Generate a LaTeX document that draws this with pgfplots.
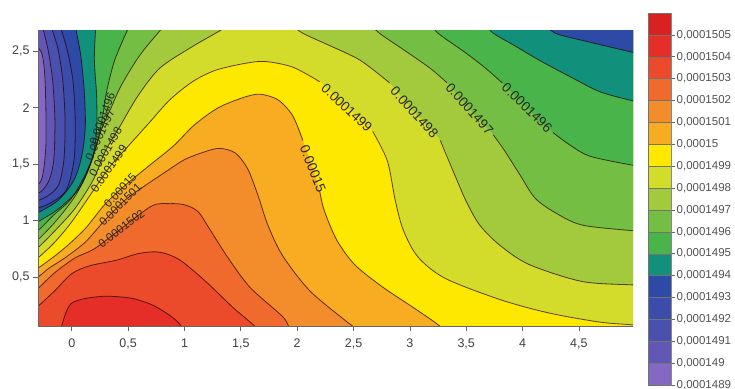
\documentclass[border=0pt]{standalone}
\usepackage{fontspec}
\setmainfont{Liberation Sans}
\usepackage{pgfplots}
\usepackage{pgfplotstable}
\pgfplotsset{compat=1.18}
\definecolor{b1489}{HTML}{8468C4}
\definecolor{b1490}{HTML}{6257B5}
\definecolor{b1491}{HTML}{4A50AE}
\definecolor{b1492}{HTML}{3C4CAB}
\definecolor{b1493}{HTML}{2C4AA6}
\definecolor{b1494}{HTML}{11907C}
\definecolor{b1495}{HTML}{48B44A}
\definecolor{b1496}{HTML}{74BF43}
\definecolor{b1497}{HTML}{A2CA3C}
\definecolor{b1498}{HTML}{D4DC2B}
\definecolor{b1499}{HTML}{FFE800}
\definecolor{b1500}{HTML}{F8AC22}
\definecolor{b1501}{HTML}{F38C2A}
\definecolor{b1502}{HTML}{EF6A2C}
\definecolor{b1503}{HTML}{EB4B2B}
\definecolor{b1504}{HTML}{E52E27}
\definecolor{b1505}{HTML}{D9211F}
\pgfplotsset{
  cl/.style={smooth, draw=black!85!red, draw opacity=0.72, line width=0.8bp},
  rg/.style={smooth, draw=none, fill=#1},
}
\tikzset{
  lab/.style={font=\fontsize{13.5bp}{14bp}\selectfont, text=black!85, inner sep=0pt},
  slab/.style={font=\fontsize{11.5bp}{12bp}\selectfont, text=black!85, inner sep=0pt},
}
\begin{document}
% contour 0.000149 (closed pocket on the left edge)
\pgfplotstableread{
x y
-0.37 2.60
-0.27 2.49
-0.24 2.29
-0.23 1.98
-0.23 1.67
-0.25 1.45
-0.28 1.34
-0.37 1.27
}\tNa
% 0.0001491
\pgfplotstableread{
x y
-0.26 2.75
-0.25 2.68
-0.21 2.51
-0.17 2.24
-0.15 1.89
-0.16 1.54
-0.20 1.36
-0.27 1.26
-0.37 1.21
}\tNb
% 0.0001492
\pgfplotstableread{
x y
-0.19 2.75
-0.17 2.68
-0.12 2.51
-0.08 2.24
-0.06 1.89
-0.07 1.54
-0.12 1.31
-0.23 1.21
-0.37 1.15
}\tNc
% 0.0001493
\pgfplotstableread{
x y
-0.11 2.75
-0.09 2.68
-0.04 2.51
0.01 2.24
0.03 1.89
0.02 1.54
-0.05 1.27
-0.20 1.15
-0.37 1.09
}\tNd
% 0.0001494 left
\pgfplotstableread{
x y
0.03 2.75
0.04 2.68
0.08 2.46
0.11 2.15
0.12 1.84
0.09 1.58
0.02 1.36
-0.12 1.18
-0.30 1.07
-0.39 1.03
}\tLe
% 0.0001495 left
\pgfplotstableread{
x y
0.22 2.75
0.21 2.68
0.20 2.42
0.22 2.11
0.22 1.80
0.18 1.54
0.07 1.29
-0.11 1.11
-0.30 0.99
-0.39 0.95
}\tLf
% 0.0001496 left
\pgfplotstableread{
x y
0.53 2.75
0.49 2.68
0.38 2.42
0.31 2.15
0.28 1.96
0.23 1.71
0.14 1.45
0.00 1.20
-0.16 1.05
-0.30 0.91
-0.39 0.85
}\tLg
% 0.0001497 left
\pgfplotstableread{
x y
0.85 2.75
0.78 2.68
0.60 2.46
0.44 2.20
0.34 1.98
0.26 1.80
0.18 1.54
0.05 1.25
-0.12 1.02
-0.30 0.83
-0.39 0.77
}\tLh
% 0.0001498 left
\pgfplotstableread{
x y
1.42 2.75
1.31 2.68
1.05 2.53
0.78 2.35
0.59 2.11
0.43 1.84
0.30 1.62
0.19 1.36
0.03 1.11
-0.14 0.92
-0.30 0.76
-0.39 0.70
}\tLi
% 0.0001498 right
\pgfplotstableread{
x y
1.93 2.75
2.05 2.66
2.29 2.55
2.56 2.42
2.82 2.22
3.04 1.96
3.27 1.71
3.40 1.40
3.50 1.17
3.62 0.96
3.80 0.78
4.06 0.61
4.53 0.46
4.98 0.43
5.08 0.42
}\tRi
% 0.0001497 right
\pgfplotstableread{
x y
2.64 2.75
2.73 2.66
2.95 2.51
3.18 2.35
3.33 2.22
3.53 1.99
3.74 1.76
3.84 1.62
3.98 1.40
4.11 1.20
4.29 1.07
4.53 0.96
4.98 0.91
5.08 0.90
}\tRh
% 0.0001496 right
\pgfplotstableread{
x y
3.18 2.75
3.25 2.66
3.49 2.49
3.66 2.36
3.82 2.22
4.04 2.00
4.27 1.78
4.42 1.67
4.60 1.57
4.98 1.49
5.08 1.48
}\tRg
% 0.0001495 right
\pgfplotstableread{
x y
3.66 2.75
3.74 2.66
3.93 2.55
4.15 2.42
4.45 2.26
4.69 2.14
4.98 2.06
5.08 2.04
}\tRf
% 0.0001494 right
\pgfplotstableread{
x y
4.20 2.75
4.29 2.66
4.60 2.58
4.98 2.49
5.08 2.46
}\tRe
% 0.0001499
\pgfplotstableread{
x y
5.08 0.05
4.98 0.075
4.69 0.10
4.24 0.18
3.80 0.30
3.31 0.49
3.07 0.68
2.94 0.92
2.87 1.18
2.80 1.53
2.67 1.79
2.44 2.00
2.20 2.23
1.96 2.36
1.71 2.41
1.52 2.39
1.27 2.33
1.07 2.23
0.87 2.07
0.69 1.87
0.51 1.67
0.34 1.48
0.18 1.25
0.00 0.99
-0.15 0.81
-0.30 0.67
-0.39 0.62
}\tAj
% 0.00015
\pgfplotstableread{
x y
3.31 -0.03
3.27 0.06
3.06 0.21
2.76 0.41
2.51 0.61
2.35 0.83
2.24 1.09
2.20 1.26
2.14 1.46
2.05 1.71
1.96 1.93
1.83 2.07
1.67 2.12
1.52 2.09
1.30 2.00
1.09 1.85
0.90 1.66
0.69 1.49
0.47 1.31
0.29 1.14
0.12 0.93
-0.06 0.76
-0.20 0.65
-0.30 0.58
-0.39 0.54
}\tAk
% 0.0001501
\pgfplotstableread{
x y
2.56 -0.03
2.51 0.05
2.42 0.12
2.11 0.38
1.87 0.69
1.74 0.96
1.65 1.23
1.56 1.46
1.45 1.60
1.31 1.64
1.18 1.61
1.00 1.54
0.83 1.43
0.65 1.31
0.47 1.18
0.29 1.00
0.12 0.81
-0.06 0.67
-0.20 0.58
-0.30 0.50
-0.39 0.46
}\tAl
% 0.0001502
\pgfplotstableread{
x y
1.99 -0.03
1.93 0.05
1.87 0.15
1.58 0.41
1.38 0.68
1.22 0.93
1.12 1.08
1.00 1.14
0.87 1.15
0.71 1.13
0.44 0.93
0.20 0.75
0.03 0.67
-0.15 0.54
-0.30 0.40
-0.39 0.35
}\tAm
% 0.0001503
\pgfplotstableread{
x y
1.69 -0.03
1.64 0.05
1.43 0.23
1.20 0.45
0.96 0.65
0.78 0.72
0.60 0.71
0.40 0.65
0.16 0.60
0.00 0.53
-0.15 0.38
-0.30 0.24
-0.39 0.17
}\tAn
% 0.0001504
\pgfplotstableread{
x y
-0.12 -0.06
-0.09 0.066
-0.05 0.19
0.00 0.27
0.12 0.31
0.31 0.33
0.54 0.31
0.72 0.25
0.87 0.16
0.96 0.08
1.00 -0.01
}\tAo
\begin{tikzpicture}
\path[use as bounding box] (-38bp,-63bp) rectangle (697bp,326bp);
\begin{axis}[
  at={(0,0)}, anchor=south west, scale only axis,
  width=595bp, height=295bp,
  xmin=-0.3, xmax=4.98, ymin=0.066, ymax=2.68,
  axis x line=bottom, axis y line=left,
  axis line style={-, black!60, line width=0.7bp},
  axis on top,
  xtick={0,0.5,1,1.5,2,2.5,3,3.5,4,4.5},
  ytick={0.5,1,1.5,2,2.5},
  tick align=outside, major tick length=5bp,
  tick style={black!60, line width=0.7bp},
  ticklabel style={font=\fontsize{12.5bp}{13bp}\selectfont, text=black!75},
  xticklabel style={yshift=-4bp},
  /pgf/number format/use comma,
  /pgf/number format/assume math mode=true,
]
\addplot[draw=none, fill=b1498] coordinates {(-0.6,-0.3) (5.3,-0.3) (5.3,3.0) (-0.6,3.0)} -- cycle;
% low values, top left
\addplot[rg=b1497] table {\tLi} -- (-0.6,3.0) -- cycle;
\addplot[rg=b1496] table {\tLh} -- (-0.6,3.0) -- cycle;
\addplot[rg=b1495] table {\tLg} -- (-0.6,3.0) -- cycle;
\addplot[rg=b1494] table {\tLf} -- (-0.6,3.0) -- cycle;
\addplot[rg=b1493] table {\tLe} -- (-0.6,3.0) -- cycle;
\addplot[rg=b1492] table {\tNd} -- (-0.6,3.0) -- cycle;
\addplot[rg=b1491] table {\tNc} -- (-0.6,3.0) -- cycle;
\addplot[rg=b1490] table {\tNb} -- (-0.6,3.0) -- cycle;
\addplot[rg=b1489] table {\tNa} -- cycle;
% low values, top right
\addplot[rg=b1497] table {\tRi} -- (5.3,3.0) -- cycle;
\addplot[rg=b1496] table {\tRh} -- (5.3,3.0) -- cycle;
\addplot[rg=b1495] table {\tRg} -- (5.3,3.0) -- cycle;
\addplot[rg=b1494] table {\tRf} -- (5.3,3.0) -- cycle;
\addplot[rg=b1493] table {\tRe} -- (5.3,3.0) -- cycle;
% high values, bottom left
\addplot[rg=b1499] table {\tAj} -- (-0.6,-0.3) -- (5.3,-0.3) -- cycle;
\addplot[rg=b1500] table {\tAk} -- (-0.6,-0.3) -- cycle;
\addplot[rg=b1501] table {\tAl} -- (-0.6,-0.3) -- cycle;
\addplot[rg=b1502] table {\tAm} -- (-0.6,-0.3) -- cycle;
\addplot[rg=b1503] table {\tAn} -- (-0.6,-0.3) -- cycle;
\addplot[rg=b1504] table {\tAo} -- cycle;
% contour lines (broken where a label sits on them)
\addplot[cl] table {\tNa};
\addplot[cl] table {\tNb};
\addplot[cl] table {\tNc};
\addplot[cl] table {\tNd};
\addplot[cl] table {\tLe};
\addplot[cl] table {\tLf};
\addplot[cl] table {\tLg};
\addplot[cl] table {\tLh};
\addplot[cl] table {\tLi};
\addplot[cl, restrict x to domain=-1:2.85] table {\tRi};
\addplot[cl, restrict x to domain=3.25:6] table {\tRi};
\addplot[cl, restrict x to domain=-1:3.35] table {\tRh};
\addplot[cl, restrict x to domain=3.72:6] table {\tRh};
\addplot[cl, restrict x to domain=-1:3.84] table {\tRg};
\addplot[cl, restrict x to domain=4.25:6] table {\tRg};
\addplot[cl] table {\tRf};
\addplot[cl] table {\tRe};
\addplot[cl, restrict x to domain=2.65:6] table {\tAj};
\addplot[cl, restrict x to domain=-1:2.22] table {\tAj};
\addplot[cl, restrict x to domain=2.19:6] table {\tAk};
\addplot[cl, restrict x to domain=-1:2.07] table {\tAk};
\addplot[cl] table {\tAl};
\addplot[cl] table {\tAm};
\addplot[cl] table {\tAn};
\addplot[cl] table {\tAo};
% labels
\node[lab, rotate=-43] at (axis cs:2.44,2.00) {0.0001499};
\node[lab, rotate=-48] at (axis cs:3.04,1.96) {0.0001498};
\node[lab, rotate=-48] at (axis cs:3.53,1.99) {0.0001497};
\node[lab, rotate=-44] at (axis cs:4.04,2.00) {0.0001496};
\node[lab, rotate=-68] at (axis cs:2.14,1.46) {0.00015};
\node[slab, rotate=70] at (axis cs:0.27,1.90) {0.0001496};
\node[slab, rotate=65] at (axis cs:0.25,1.76) {0.0001497};
\node[slab, rotate=60] at (axis cs:0.30,1.61) {0.0001498};
\node[slab, rotate=55] at (axis cs:0.33,1.46) {0.0001499};
\node[slab, rotate=47] at (axis cs:0.43,1.27) {0.00015};
\node[slab, rotate=45] at (axis cs:0.43,1.14) {0.0001501};
\node[slab, rotate=37] at (axis cs:0.44,0.93) {0.0001502};
\end{axis}
\begin{axis}[
  at={(610bp,-59bp)}, anchor=south west, scale only axis,
  width=23bp, height=372bp,
  xmin=0, xmax=1, ymin=1489, ymax=1506,
  xtick=\empty,
  ytick={1489,1490,...,1505},
  yticklabels={{0,0001489},{0,000149},{0,0001491},{0,0001492},{0,0001493},{0,0001494},{0,0001495},{0,0001496},{0,0001497},{0,0001498},{0,0001499},{0,00015},{0,0001501},{0,0001502},{0,0001503},{0,0001504},{0,0001505}},
  ytick pos=right, yticklabel pos=right,
  tick align=outside, major tick length=4bp,
  tick style={black!60, line width=0.6bp},
  axis line style={black!45, line width=0.5bp},
  yticklabel style={font=\fontsize{11.5bp}{12bp}\selectfont, text=black!68, inner sep=1.5bp},
]
\addplot[fill=b1489, draw=black!55] coordinates {(0,1489) (1,1489) (1,1490) (0,1490)} -- cycle;
\addplot[fill=b1490, draw=black!55] coordinates {(0,1490) (1,1490) (1,1491) (0,1491)} -- cycle;
\addplot[fill=b1491, draw=black!55] coordinates {(0,1491) (1,1491) (1,1492) (0,1492)} -- cycle;
\addplot[fill=b1492, draw=black!55] coordinates {(0,1492) (1,1492) (1,1493) (0,1493)} -- cycle;
\addplot[fill=b1493, draw=black!55] coordinates {(0,1493) (1,1493) (1,1494) (0,1494)} -- cycle;
\addplot[fill=b1494, draw=black!55] coordinates {(0,1494) (1,1494) (1,1495) (0,1495)} -- cycle;
\addplot[fill=b1495, draw=black!55] coordinates {(0,1495) (1,1495) (1,1496) (0,1496)} -- cycle;
\addplot[fill=b1496, draw=black!55] coordinates {(0,1496) (1,1496) (1,1497) (0,1497)} -- cycle;
\addplot[fill=b1497, draw=black!55] coordinates {(0,1497) (1,1497) (1,1498) (0,1498)} -- cycle;
\addplot[fill=b1498, draw=black!55] coordinates {(0,1498) (1,1498) (1,1499) (0,1499)} -- cycle;
\addplot[fill=b1499, draw=black!55] coordinates {(0,1499) (1,1499) (1,1500) (0,1500)} -- cycle;
\addplot[fill=b1500, draw=black!55] coordinates {(0,1500) (1,1500) (1,1501) (0,1501)} -- cycle;
\addplot[fill=b1501, draw=black!55] coordinates {(0,1501) (1,1501) (1,1502) (0,1502)} -- cycle;
\addplot[fill=b1502, draw=black!55] coordinates {(0,1502) (1,1502) (1,1503) (0,1503)} -- cycle;
\addplot[fill=b1503, draw=black!55] coordinates {(0,1503) (1,1503) (1,1504) (0,1504)} -- cycle;
\addplot[fill=b1504, draw=black!55] coordinates {(0,1504) (1,1504) (1,1505) (0,1505)} -- cycle;
\addplot[fill=b1505, draw=black!55] coordinates {(0,1505) (1,1505) (1,1506) (0,1506)} -- cycle;
\end{axis}
\end{tikzpicture}
\end{document}
